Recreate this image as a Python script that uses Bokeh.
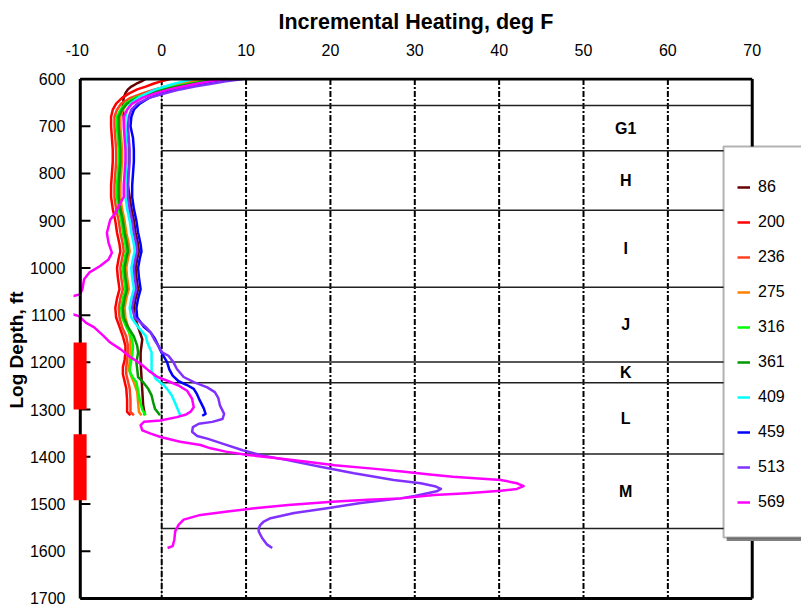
from bokeh.plotting import figure
from bokeh.models import Range1d, FixedTicker, Legend, LegendItem, BoxAnnotation, Title
from bokeh.embed import file_html
from bokeh.resources import INLINE
from bokeh.core.properties import value

FONT = "Liberation Sans"

# ---------------- axes ----------------
heat_ticks = [-10, 0, 10, 20, 30, 40, 50, 60, 70]
heat_tick_labels = ["-10", "0", "10", "20", "30", "40", "50", "60", "70"]
grid_heats = [0, 10, 20, 30, 40, 50, 60]
depth_ticks = [600, 700, 800, 900, 1000, 1100, 1200, 1300, 1400, 1500, 1600, 1700]
depth_tick_labels = ["600", "700", "800", "900", "1000", "1100", "1200",
                     "1300", "1400", "1500", "1600", "1700"]

# ---------------- zones ----------------
zone_names = ["G1", "H", "I", "J", "K", "L", "M"]
zone_tops = [656, 752, 878, 1041, 1199, 1243, 1394]
zone_bases = [752, 878, 1041, 1199, 1243, 1394, 1552]

# perforated intervals (red bars on the depth axis)
perf_tops = [1158, 1352]
perf_bases = [1300, 1492]

# ---------------- survey curves ----------------
series_names = ["86", "200", "236", "275", "316", "361", "409", "459", "513", "569"]
series_colors = ["#660000", "#FF0000", "#FF4020", "#FF8000", "#00FF00",
                 "#009900", "#00FFFF", "#0000FF", "#8030FF", "#FF00FF"]

upper_depth = [600, 605, 610, 616, 622, 630, 640, 652, 665, 680,
               700, 725, 750, 775, 800, 825, 850, 875, 900, 925,
               950, 965, 980, 1000, 1020, 1045, 1065, 1085, 1105, 1125]

depth_86 = upper_depth + [1151, 1179, 1200, 1230, 1260, 1290, 1312]
heat_86 = [-1.9, -2.4, -3.0, -3.6, -4.0, -4.3, -4.5, -4.6, -4.6, -4.5,
           -4.4, -4.2, -4.0, -4.0, -4.0, -4.0, -3.8, -3.6, -3.3, -3.1,
           -2.8, -2.7, -2.9, -3.1, -3.0, -2.8, -3.1, -3.3, -3.2, -2.8,
           -2.3, -2.5, -2.5, -2.4, -2.3, -2.2, -2.0]

depth_200 = upper_depth + [1145, 1165, 1180, 1195, 1210, 1225, 1240, 1255, 1280, 1305, 1312]
heat_200 = [1.0, -0.1, -1.0, -1.9, -2.9, -3.8, -4.7, -5.4, -5.8, -6.0,
            -6.0, -5.9, -5.8, -5.8, -5.9, -6.0, -6.0, -5.8, -5.5, -5.3,
            -5.0, -4.9, -5.1, -5.3, -5.2, -5.0, -5.3, -5.5, -5.4, -5.0,
            -4.6, -4.3, -4.3, -4.4, -4.6, -4.6, -4.4, -4.2, -4.1, -4.1, -3.7]

depth_236 = upper_depth + [1145, 1165, 1180, 1195, 1210, 1225, 1240, 1255, 1280, 1305, 1312]
heat_236 = [5.0, 3.4, 2.0, 0.5, -0.8, -2.2, -3.7, -4.8, -5.3, -5.6,
            -5.6, -5.5, -5.4, -5.4, -5.5, -5.6, -5.6, -5.4, -5.1, -4.9,
            -4.6, -4.5, -4.7, -4.9, -4.8, -4.6, -4.9, -5.1, -5.0, -4.7,
            -4.2, -4.0, -4.0, -4.1, -4.2, -4.2, -4.0, -3.8, -3.7, -3.7, -3.3]

depth_275 = upper_depth + [1150, 1179, 1200, 1214, 1230, 1242, 1263, 1285, 1305, 1312]
heat_275 = [5.3, 3.8, 2.4, 1.0, -0.3, -1.6, -3.1, -4.1, -4.6, -4.9,
            -4.9, -4.8, -4.7, -4.7, -4.8, -4.9, -4.9, -4.7, -4.4, -4.2,
            -3.9, -3.8, -4.0, -4.2, -4.1, -3.9, -4.2, -4.4, -4.3, -4.0,
            -3.7, -3.7, -3.8, -3.9, -3.6, -3.3, -2.9, -2.8, -2.7, -2.4]

depth_316 = upper_depth + [1145, 1165, 1186, 1205, 1218, 1230, 1242, 1260, 1280, 1300, 1312]
heat_316 = [6.6, 4.8, 3.3, 1.6, 0.1, -1.5, -3.2, -4.3, -4.9, -5.3,
            -5.3, -5.2, -5.1, -5.1, -5.2, -5.3, -5.3, -5.1, -4.8, -4.6,
            -4.3, -4.2, -4.4, -4.6, -4.5, -4.3, -4.6, -4.8, -4.7, -4.2,
            -3.6, -3.4, -3.5, -3.7, -3.8, -3.5, -3.0, -2.8, -2.6, -2.3, -1.9]

depth_361 = upper_depth + [1145, 1165, 1180, 1200, 1215, 1231, 1242, 1256, 1270, 1285, 1298, 1312]
heat_361 = [7.0, 5.2, 3.6, 1.9, 0.3, -1.2, -2.9, -4.1, -4.7, -5.1,
            -5.1, -5.0, -4.9, -4.9, -5.0, -5.1, -5.1, -4.9, -4.6, -4.4,
            -4.1, -4.0, -4.2, -4.4, -4.3, -4.1, -4.4, -4.6, -4.5, -4.0,
            -3.3, -2.9, -2.8, -3.0, -2.9, -2.8, -2.2, -1.6, -1.2, -1.0, -0.8, -0.2]

depth_409 = upper_depth + [1144, 1158, 1179, 1200, 1218, 1235, 1249, 1260, 1270, 1291, 1312]
heat_409 = [3.8, 2.6, 1.5, 0.4, -0.7, -1.7, -2.8, -3.7, -4.1, -4.3,
            -4.3, -4.2, -4.1, -4.1, -4.2, -4.3, -4.3, -4.1, -3.8, -3.6,
            -3.3, -3.2, -3.4, -3.6, -3.5, -3.3, -3.6, -3.8, -3.6, -2.8,
            -1.9, -1.7, -1.2, -1.2, -1.2, -0.7, 0.3, 0.8, 1.2, 1.7, 2.2]

depth_459 = upper_depth + [1137, 1150, 1165, 1180, 1200, 1215, 1228, 1240, 1248, 1256,
                           1268, 1280, 1298, 1309, 1313]
heat_459 = [7.8, 6.1, 4.6, 3.1, 1.6, 0.1, -1.5, -2.6, -3.3, -3.6,
            -3.7, -3.4, -3.3, -3.3, -3.4, -3.5, -3.5, -3.3, -3.0, -2.8,
            -2.5, -2.4, -2.6, -2.8, -2.7, -2.5, -2.8, -3.0, -2.9, -2.1,
            -1.3, -0.8, -0.4, 0.0, 0.65, 0.9, 1.3, 2.0, 3.0, 3.8,
            4.2, 4.5, 5.0, 5.2, 4.8]

depth_513 = upper_depth + [1137, 1151, 1165, 1179, 1186, 1200, 1214, 1231, 1242, 1253,
                           1263, 1275, 1291, 1309, 1320, 1326, 1330, 1337, 1347, 1356,
                           1362, 1372, 1386, 1397, 1407, 1421, 1435, 1449, 1456, 1463,
                           1468, 1473, 1477, 1483, 1488, 1498, 1509, 1519, 1530, 1537,
                           1544, 1551, 1558, 1565, 1572, 1586, 1593]
heat_513 = [9.7, 7.6, 5.9, 3.9, 2.2, 0.4, -1.5, -2.9, -3.6, -3.9,
            -4.0, -3.9, -3.8, -3.8, -3.9, -4.0, -4.0, -3.8, -3.5, -3.3,
            -3.0, -2.9, -3.1, -3.3, -3.2, -3.0, -3.3, -3.5, -3.2, -1.9,
            -1.3, -0.9, -0.4, 0.05, 0.8, 1.4, 1.8, 2.6, 3.8, 5.4,
            6.3, 6.7, 6.9, 7.4, 7.2, 6.0, 4.4, 3.7, 3.6, 4.2,
            5.5, 7.2, 9.6, 11.9, 14.9, 18.8, 22.8, 27.5, 30.7, 32.5,
            33.1, 32.6, 31.5, 30.0, 28.3, 23.6, 19.6, 15.7, 12.9, 12.1,
            11.7, 11.5, 11.5, 11.7, 11.9, 12.5, 13.1]

# 569 runs off the left of the plot area between about 1056 and 1102 ft
depth_569 = upper_depth[:17] + [856, 870, 884, 898, 912, 926, 947, 968, 982, 996,
                                1010, 1024, 1045, 1056, 1062, 1080, 1096, 1102, 1116, 1126,
                                1144, 1158, 1172, 1189, 1203, 1218, 1231, 1239, 1249, 1260,
                                1277, 1295, 1305, 1311, 1316, 1323, 1326, 1333, 1344, 1351,
                                1358, 1368, 1375, 1382, 1389, 1396, 1403, 1410, 1418, 1425,
                                1431, 1437, 1442, 1449, 1456, 1462, 1468, 1472, 1477, 1481,
                                1488, 1491, 1495, 1502, 1509, 1516, 1523, 1533, 1544, 1558,
                                1575, 1589, 1593]
heat_569 = [7.5, 5.7, 4.1, 2.5, 0.9, -0.7, -2.3, -3.5, -4.1, -4.5,
            -4.5, -4.4, -4.3, -4.3, -4.4, -4.5, -4.5,
            -4.7, -5.1, -5.5, -6.1, -6.3, -6.5, -6.3, -5.9, -6.3, -7.3,
            -8.6, -9.2, -9.4, -9.7, -11.0, -11.2, -11.0, -9.8, -9.0, -8.0,
            -6.9, -6.1, -4.9, -3.7, -2.5, -1.5, -0.5, 0.65, 2.0, 3.0,
            3.6, 3.8, 3.4, 2.8, 1.8, -0.15, -2.1, -2.5, -2.3, -1.3,
            -0.15, 2.2, 4.6, 5.8, 7.6, 10.2, 13.7, 17.0, 20.5, 25.0,
            28.5, 31.5, 34.5, 40.2, 42.1, 42.9, 42.1, 40.2, 36.2, 32.3,
            28.3, 24.4, 20.2, 15.0, 11.0, 7.8, 4.6, 2.6, 2.0, 1.6,
            1.5, 1.3, 0.7]

series_depths = [depth_86, depth_200, depth_236, depth_275, depth_316,
                 depth_361, depth_409, depth_459, depth_513, depth_569]
series_heats = [heat_86, heat_200, heat_236, heat_275, heat_316,
                heat_361, heat_409, heat_459, heat_513, heat_569]

# ---------------- figure ----------------
plot_left = -9.65   # left edge of the plotting area (the red bars sit across it)

p = figure(width=801, height=607, output_backend="svg", toolbar_location=None,
           title=None, x_range=Range1d(-10.455, 75.84), y_range=Range1d(1710.6, 596.8),
           x_axis_location="above", y_axis_location="left",
           min_border_left=73, min_border_right=0, min_border_top=77, min_border_bottom=4,
           background_fill_color="white", border_fill_color="white",
           outline_line_color=None)
p.xgrid.visible = False
p.ygrid.visible = False

xa = p.xaxis[0]
xa.ticker = FixedTicker(ticks=heat_ticks)
xa.major_label_overrides = dict(zip(heat_ticks, heat_tick_labels))
xa.major_label_standoff = 16

ya = p.yaxis[0]
ya.ticker = FixedTicker(ticks=depth_ticks)
ya.major_label_overrides = dict(zip(depth_ticks, depth_tick_labels))
ya.major_label_standoff = 2

for ax in (xa, ya):
    ax.axis_line_color = None
    ax.major_tick_line_color = None
    ax.minor_tick_line_color = None
    ax.major_label_text_font = FONT
    ax.major_label_text_font_size = "16px"
    ax.major_label_text_color = "black"

# axis titles, placed over the -10..70 plotting area
p.add_layout(Title(text="Incremental Heating, deg F", align="left", offset=205,
                   standoff=14, text_font=FONT, text_font_style="bold",
                   text_font_size="21.5px", text_color="black"), "above")
p.add_layout(Title(text="Log Depth, ft", align="left", offset=195,
                   standoff=0, text_font=FONT, text_font_style="bold",
                   text_font_size="19px", text_color="black"), "left")

top, bottom = depth_ticks[0], depth_ticks[-1]
right = heat_ticks[-1]

# zero line and dash-dot verticals
p.segment(x0=[0], y0=[top], x1=[0], y1=[bottom], line_color="#808080", line_width=1)
p.segment(x0=grid_heats, y0=[top] * len(grid_heats), x1=grid_heats, y1=[bottom] * len(grid_heats),
          line_color="black", line_width=2, line_dash="6 2 2 2")

# zone boundaries
bounds = sorted(set(zone_tops + zone_bases))
p.segment(x0=[0] * len(bounds), y0=bounds, x1=[right] * len(bounds), y1=bounds,
          line_color="#202020", line_width=1.5)

# curves
renderers = []
for d, h, c in zip(series_depths, series_heats, series_colors):
    renderers.append(p.line(h, d, line_color=c, line_width=2.5, line_join="round"))

# plot-area frame and inner depth ticks
p.segment(x0=[plot_left, right, plot_left, plot_left], y0=[top, top, top, bottom],
          x1=[plot_left, right, right, right], y1=[bottom, bottom, top, bottom],
          line_color="black", line_width=3)
p.segment(x0=[plot_left] * len(depth_ticks), y0=depth_ticks,
          x1=[plot_left + 1.2] * len(depth_ticks), y1=depth_ticks,
          line_color="black", line_width=2)

# perforations
p.quad(left=-10.5, right=-8.9, top=perf_tops, bottom=perf_bases,
       fill_color="#FF0000", line_color=None)

# zone labels
zone_mid = [(t + b) / 2 for t, b in zip(zone_tops, zone_bases)]
p.text(x=[55] * len(zone_names), y=zone_mid, text=zone_names,
       text_align="center", text_baseline="middle",
       text_font=value(FONT), text_font_style="bold", text_font_size="16px",
       text_color="black")

# legend frame with drop shadow
p.add_layout(BoxAnnotation(left=66.97, right=80, top=750.3, bottom=1578.2,
                           fill_color="#808080", fill_alpha=1.0, line_color=None))
p.add_layout(BoxAnnotation(left=66.6, right=80, top=742.9, bottom=1570.8,
                           fill_color="white", fill_alpha=1.0,
                           line_color="black", line_width=2))

legend = Legend(items=[LegendItem(label=n, renderers=[r]) for n, r in zip(series_names, renderers)],
                location=(664, 91), orientation="vertical",
                glyph_width=13, glyph_height=20, label_height=20,
                spacing=15, padding=10, label_standoff=8, margin=0,
                border_line_color=None, background_fill_alpha=0,
                label_text_font=FONT, label_text_font_size="16px",
                label_text_color="black")
p.add_layout(legend)

open("out.html", "w").write(file_html(p, INLINE))
